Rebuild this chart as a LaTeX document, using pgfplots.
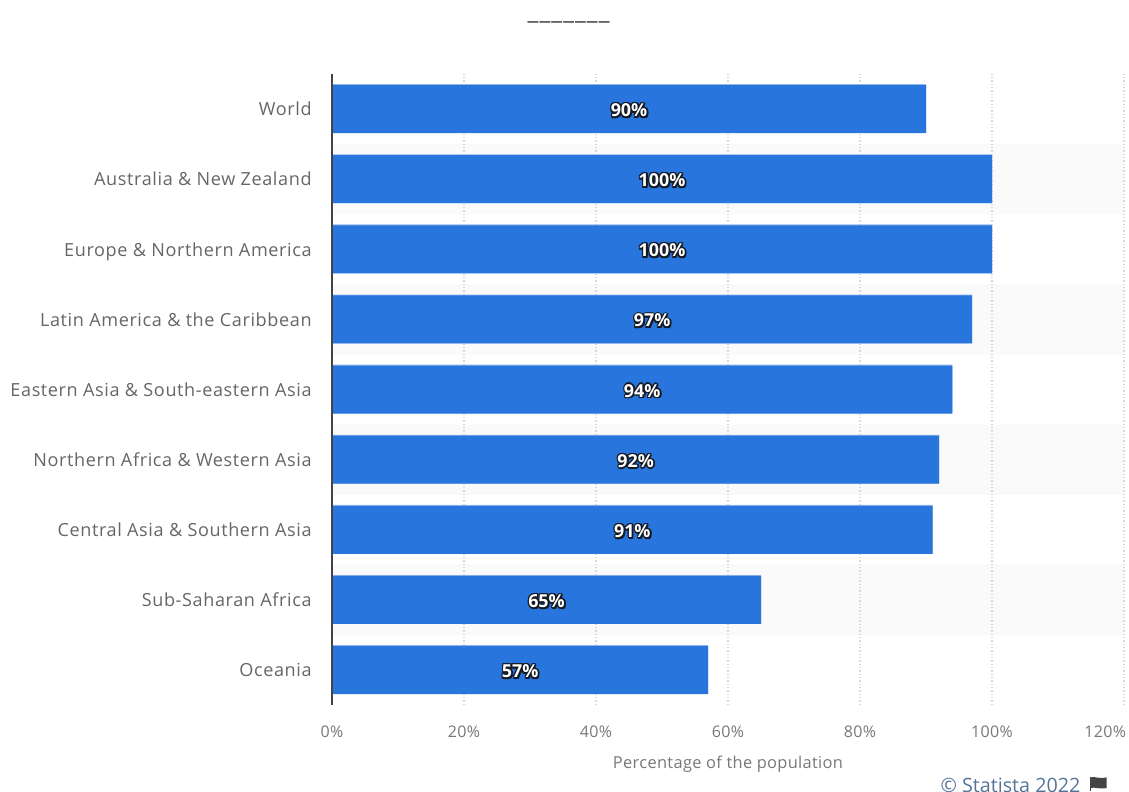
\documentclass[border=0pt]{standalone}
\usepackage{pgfplots}
\usepackage{pgfplotstable}
\usepackage{fontspec}
\pgfplotsset{compat=1.18}
\setmainfont{Open Sans}
\newfontfamily\spaced[LetterSpace=2]{Open Sans}
\newfontfamily\wider[LetterSpace=3.4]{Open Sans}
\definecolor{barblue}{HTML}{2875DE}
\definecolor{baredge}{HTML}{8FB5EC}
\definecolor{bandgray}{HTML}{FAFAFA}
\definecolor{gridgray}{HTML}{D8D8D8}
\definecolor{labelgray}{HTML}{666666}
\definecolor{tickgray}{HTML}{777777}
\definecolor{spine}{HTML}{444444}
\definecolor{credit}{HTML}{55749A}
\definecolor{halodark}{HTML}{141A24}

% Share of population per region (y = row position, v = percent)
\pgfplotstableread{
y v
8 90
7 100
6 100
5 97
4 94
3 92
2 91
1 65
0 57
}\regiondata

% Alternate row shading
\pgfplotstableread{
y v
7 120
5 120
3 120
1 120
}\banddata

% White value label on a dark outline, heavier towards the lower right
\newcommand\halocopy[3]{\makebox[0pt][l]{\hspace*{#1}\raisebox{#2}{\textcolor{halodark}{#3}}}}
\newcommand\halotext[1]{%
  \halocopy{-0.8pt}{0pt}{#1}\halocopy{1.4pt}{0pt}{#1}%
  \halocopy{0pt}{0.8pt}{#1}\halocopy{0pt}{-1.4pt}{#1}%
  \halocopy{-0.7pt}{0.7pt}{#1}\halocopy{1.1pt}{0.7pt}{#1}%
  \halocopy{-0.7pt}{-1.1pt}{#1}\halocopy{1.3pt}{-1.3pt}{#1}%
  \textcolor{white}{#1}}

\begin{document}
\begin{tikzpicture}[x=1pt,y=1pt]
\useasboundingbox (0,0) rectangle (846.75,594);
\begin{axis}[
  at={(249pt,65.15pt)}, anchor=south west,
  scale only axis, width=594pt, height=473.3pt,
  xmin=0, xmax=120, ymin=-0.5, ymax=8.5,
  clip=false,
  axis on top,
  axis lines*=left,
  axis line style={-},
  x axis line style={draw=none},
  y axis line style={draw=spine, line width=1.3pt},
  tick style={draw=none},
  major tick length=0pt,
  /pgf/number format/assume math mode=true,
  xtick={0,20,40,60,80,100,120},
  xticklabels={0\%,20\%,40\%,60\%,80\%,100\%,\makebox[0pt][r]{120\%\hspace{-1.5pt}}},
  ytick={0,1,2,3,4,5,6,7,8},
  yticklabels={Oceania,Sub-Saharan Africa,Central Asia \& Southern Asia,Northern Africa \& Western Asia,Eastern Asia \& South-eastern Asia,Latin America \& the Caribbean,Europe \& Northern America,Australia \& New Zealand,World},
  y tick label style={font=\wider\fontsize{13.55pt}{15pt}\selectfont, text=labelgray, anchor=east, xshift=-11.75pt, yshift=-1.5pt, text height=10pt, text depth=3pt},
  x tick label style={font=\spaced\fontsize{12pt}{14pt}\selectfont, text=tickgray, anchor=center, yshift=-19.75pt},
  xlabel={Percentage of the population},
  xlabel style={font=\spaced\fontsize{12.3pt}{14pt}\selectfont, text=tickgray, anchor=center, at={(axis description cs:0.5,0)}, yshift=-44.5pt},
]
% row shading
\addplot[xbar, bar shift=0pt, bar width=52.6pt, draw=none, fill=bandgray, forget plot] table[x=v,y=y] {\banddata};
% dotted grid over the shading
\pgfplotsinvokeforeach{20,40,60,80,100,120}{
  \addplot[gridgray, line width=1.1pt, dash pattern=on 1.1pt off 1.4pt, forget plot] coordinates {(#1,-0.5) (#1,8.5)};
}
% bars with a light upper edge
\addplot[xbar, bar shift=0.4pt, bar width=36.6pt, draw=none, fill=baredge, forget plot] table[x=v,y=y] {\regiondata};
\addplot[xbar, bar shift=0pt, bar width=36pt, draw=none, fill=barblue, forget plot] table[x=v,y=y] {\regiondata};
% value labels centred on each bar
\addplot[draw=none, mark=none, forget plot,
  point meta={\thisrow{v}},
  nodes near coords={\halotext{\pgfmathprintnumber[fixed,precision=0,assume math mode=true]{\pgfplotspointmeta}\%}},
  nodes near coords style={anchor=center, font=\bfseries\fontsize{13.4pt}{15pt}\selectfont, inner sep=0pt, text height=10pt, text depth=0pt, yshift=-0.6pt},
] table[x expr=\thisrow{v}/2, y=y] {\regiondata};
\end{axis}
% blank title line
\node[anchor=center, text=spine, font=\fontsize{18pt}{20pt}\selectfont] at (426.5,578.25)
  {\makebox[8.9pt]{\_}\makebox[8.9pt]{\_}\makebox[8.9pt]{\_}\makebox[8.9pt]{\_}\makebox[8.9pt]{\_}\makebox[8.9pt]{\_}\makebox[8.9pt]{\_}};
% source credit and flag
\node[anchor=east, text=credit, font=\fontsize{14.8pt}{16pt}\selectfont, inner sep=0pt] at (810.5,5) {© Statista 2022};
\draw[line width=0.9pt, spine] (817.7,0.5) -- (817.7,11.5);
\fill[spine] (818.3,11) .. controls (821,12) and (824,9.5) .. (830,11) -- (830,3) .. controls (824,1.8) and (821,4) .. (818.3,3) -- cycle;
\end{tikzpicture}
\end{document}
